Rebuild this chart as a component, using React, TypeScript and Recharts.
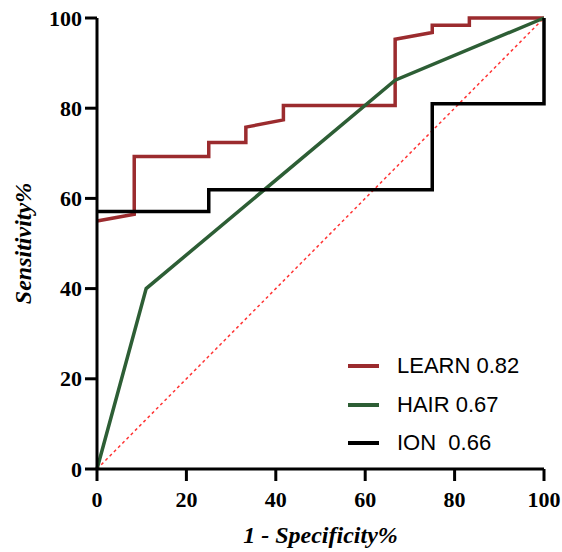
import { Label, Line, LineChart, XAxis, YAxis } from "recharts";

// ROC curves: x = 1 - specificity (%), y = sensitivity (%)
const learnX = [0, 8.33, 8.33, 25, 25, 33.3, 33.3, 41.7, 41.7, 66.7, 66.7, 75, 75, 83.3, 83.3, 100];
const learnY = [55, 56.5, 69.3, 69.3, 72.4, 72.4, 75.8, 77.4, 80.6, 80.6, 95.3, 96.8, 98.4, 98.4, 100, 100];

const hairX = [0, 11, 66.7, 100];
const hairY = [0, 40, 86.2, 100];

const ionX = [0, 25, 25, 75, 75, 100, 100];
const ionY = [57.1, 57.1, 61.9, 61.9, 81, 81, 100];

const refX = [0, 100];
const refY = [0, 100];

const ticks = [0, 20, 40, 60, 80, 100];

const series = [
  { name: "LEARN 0.82", color: "#9b2b2e", xs: learnX, ys: learnY },
  { name: "HAIR 0.67", color: "#2d5e35", xs: hairX, ys: hairY },
  { name: "ION  0.66", color: "#000000", xs: ionX, ys: ionY },
];

const pts = (xs: number[], ys: number[]) => xs.map((x, i) => ({ x, y: ys[i] }));

const serif = "Liberation Serif";

const renderXTick = ({ x, y, payload }: any) => (
  <text
    key={`x-${payload.value}`}
    x={x}
    y={y + 24}
    textAnchor="middle"
    style={{ fontFamily: serif, fontWeight: 700, fontSize: 22, fill: "#000" }}
  >
    {payload.value}
  </text>
);

const renderYTick = ({ x, y, payload }: any) => (
  <text
    key={`y-${payload.value}`}
    x={x}
    y={y + 7.5}
    textAnchor="end"
    style={{ fontFamily: serif, fontWeight: 700, fontSize: 22, fill: "#000" }}
  >
    {payload.value}
  </text>
);

export default function App() {
  return (
    <div style={{ position: "absolute", left: 8, top: 8, width: 554, height: 544 }}>
      <LineChart
        width={554}
        height={544}
        margin={{ top: 10, right: 18, left: 0, bottom: 0 }}
      >
        <XAxis
          type="number"
          dataKey="x"
          domain={[0, 100]}
          ticks={ticks}
          height={83}
          tickSize={12}
          tickMargin={2}
          tick={renderXTick}
          axisLine={{ stroke: "#000", strokeWidth: 3 }}
          tickLine={{ stroke: "#000", strokeWidth: 3 }}
        >
          <Label
            content={({ viewBox }: any) => (
              <text
                x={viewBox.x + viewBox.width / 2}
                y={viewBox.y + viewBox.height - 9}
                textAnchor="middle"
                style={{ fontFamily: serif, fontWeight: 700, fontStyle: "italic", fontSize: 24, fill: "#000" }}
              >
                1 - Specificity%
              </text>
            )}
          />
        </XAxis>
        <YAxis
          type="number"
          dataKey="y"
          domain={[0, 100]}
          ticks={ticks}
          width={89}
          tickSize={12}
          tickMargin={3}
          tick={renderYTick}
          axisLine={{ stroke: "#000", strokeWidth: 3 }}
          tickLine={{ stroke: "#000", strokeWidth: 3 }}
        >
          <Label
            content={({ viewBox }: any) => {
              const cx = 15;
              const cy = viewBox.y + viewBox.height / 2;
              return (
                <text
                  x={cx}
                  y={cy}
                  transform={`rotate(-90, ${cx}, ${cy})`}
                  textAnchor="middle"
                  dominantBaseline="central"
                  style={{ fontFamily: serif, fontWeight: 700, fontStyle: "italic", fontSize: 24, fill: "#000" }}
                >
                  Sensitivity%
                </text>
              );
            }}
          />
        </YAxis>
        <Line
          data={pts(refX, refY)}
          dataKey="y"
          type="linear"
          stroke="#ff3333"
          strokeWidth={1.5}
          strokeDasharray="3 3"
          dot={false}
          isAnimationActive={false}
        />
        {series.map((s) => (
          <Line
            key={s.name}
            data={pts(s.xs, s.ys)}
            dataKey="y"
            name={s.name}
            type="linear"
            stroke={s.color}
            strokeWidth={3.5}
            dot={false}
            isAnimationActive={false}
          />
        ))}
      </LineChart>
      <div
        style={{
          position: "absolute",
          left: 340,
          top: 339,
          fontFamily: "'Liberation Sans', Arial, sans-serif",
          fontSize: 22,
          color: "#000",
        }}
      >
        {series.map((s) => (
          <div
            key={s.name}
            style={{ display: "flex", alignItems: "center", height: 38.5 }}
          >
            <div style={{ width: 31, height: 4, background: s.color, marginRight: 18 }} />
            <span style={{ whiteSpace: "pre" }}>{s.name}</span>
          </div>
        ))}
      </div>
    </div>
  );
}
